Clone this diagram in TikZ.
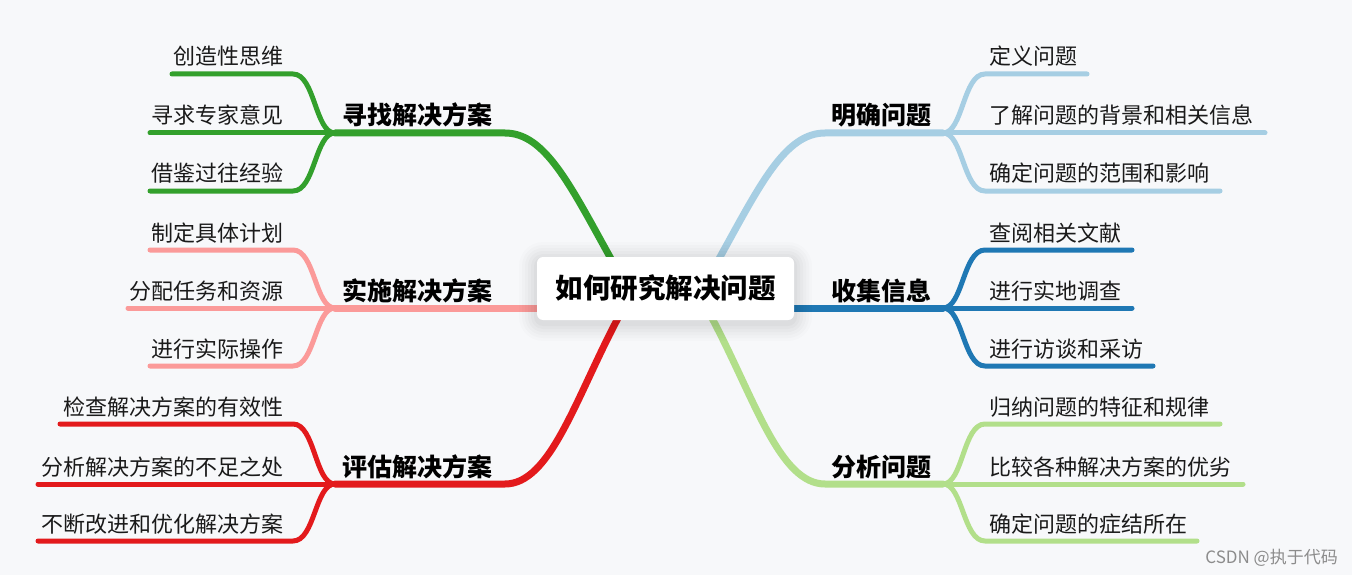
\documentclass[tikz,border=0pt]{standalone}
\usepackage{fontspec}
\setmainfont{Noto Sans CJK SC}
\definecolor{bg}{HTML}{F7F8FA}
\definecolor{cgreen}{HTML}{33A02C}
\definecolor{cpink}{HTML}{FB9A99}
\definecolor{cred}{HTML}{E31A1C}
\definecolor{clblue}{HTML}{A6CEE3}
\definecolor{cdblue}{HTML}{1F78B4}
\definecolor{clgreen}{HTML}{B2DF8A}
\definecolor{txt}{HTML}{1A1A1A}
\definecolor{wm}{HTML}{8C8C8C}
\tikzset{
  mainline/.style={line width=7pt, line cap=round},
  childline/.style={line width=5pt, line cap=round},
  childL/.style={anchor=base east, inner sep=0pt, text=txt, font=\fontsize{22}{26}\selectfont},
  childR/.style={anchor=base west, inner sep=0pt, text=txt, font=\fontsize{22}{26}\selectfont},
  mainlabel/.style={anchor=base, inner sep=0pt, text=black, font=\fontsize{25}{29}\selectfont\bfseries},
}
\begin{document}
\begin{tikzpicture}[x=1pt,y=-1pt]
\fill[bg] (0,0) rectangle (1352,575);
\useasboundingbox (0,0) rectangle (1352,575);

% ---------- coordinates ----------
\coordinate (cc) at (665,290);
\coordinate (cB) at (620,308);
\coordinate (cE) at (710,308);
\coordinate (hA) at (335,133);
\coordinate (hB) at (335,308);
\coordinate (hC) at (335,484);
\coordinate (hD) at (943,133);
\coordinate (hE) at (943,308);
\coordinate (hF) at (943,484);
\coordinate (bA) at (505,133);
\coordinate (bC) at (505,484);
\coordinate (bD) at (825,133);
\coordinate (bF) at (825,484);
\coordinate (eA) at (610,257);
\coordinate (eC) at (617,320);
\coordinate (eD) at (720,257);
\coordinate (eF) at (713,320);

% ---------- main branches ----------
\draw[mainline, cgreen] (hA) -- (bA) .. controls (545,133) and (570,185) .. (eA) -- (628,290);
\draw[mainline, cpink] (hB) -- (cB);
\draw[mainline, cred] (hC) -- (bC) .. controls (550,484) and (575,400) .. (eC) -- (630,295);
\draw[mainline, clblue] (hD) -- (bD) .. controls (785,133) and (760,185) .. (eD) -- (702,290);
\draw[mainline, cdblue] (hE) -- (cE);
\draw[mainline, clgreen] (hF) -- (bF) .. controls (780,484) and (755,400) .. (eF) -- (700,295);

% ---------- left children ----------
\coordinate (a1) at (172,74);  \coordinate (a2) at (150,133); \coordinate (a3) at (150,191);
\draw[childline, cgreen] (hA) .. controls (315,133) and (315,74) .. (293,74) -- (a1);
\draw[childline, cgreen] (hA) -- (a2);
\draw[childline, cgreen] (hA) .. controls (315,133) and (315,191) .. (293,191) -- (a3);
\coordinate (b1) at (150,250); \coordinate (b2) at (128,308); \coordinate (b3) at (150,366);
\draw[childline, cpink] (hB) .. controls (315,308) and (315,250) .. (293,250) -- (b1);
\draw[childline, cpink] (hB) -- (b2);
\draw[childline, cpink] (hB) .. controls (315,308) and (315,366) .. (293,366) -- (b3);
\coordinate (c1) at (60,424); \coordinate (c2) at (38,484); \coordinate (c3) at (38,541);
\draw[childline, cred] (hC) .. controls (315,484) and (315,424) .. (293,424) -- (c1);
\draw[childline, cred] (hC) -- (c2);
\draw[childline, cred] (hC) .. controls (315,484) and (315,541) .. (293,541) -- (c3);

% ---------- right children ----------
\coordinate (d1) at (1087,74); \coordinate (d2) at (1265,133); \coordinate (d3) at (1220,191);
\draw[childline, clblue] (hD) .. controls (963,133) and (963,74) .. (985,74) -- (d1);
\draw[childline, clblue] (hD) -- (d2);
\draw[childline, clblue] (hD) .. controls (963,133) and (963,191) .. (985,191) -- (d3);
\coordinate (e1) at (1132,250); \coordinate (e2) at (1132,308); \coordinate (e3) at (1153,366);
\draw[childline, cdblue] (hE) .. controls (963,308) and (963,250) .. (985,250) -- (e1);
\draw[childline, cdblue] (hE) -- (e2);
\draw[childline, cdblue] (hE) .. controls (963,308) and (963,366) .. (985,366) -- (e3);
\coordinate (f1) at (1220,424); \coordinate (f2) at (1243,484); \coordinate (f3) at (1197,541);
\draw[childline, clgreen] (hF) .. controls (963,484) and (963,424) .. (985,424) -- (f1);
\draw[childline, clgreen] (hF) -- (f2);
\draw[childline, clgreen] (hF) .. controls (963,484) and (963,541) .. (985,541) -- (f3);

% ---------- center node ----------
\foreach \r/\o in {18/0.012,15/0.014,12/0.016,9/0.018,6/0.02,3/0.022}{
  \fill[black, opacity=\o, rounded corners=6pt+\r pt] (537-\r,257-\r+3) rectangle (794+\r,320+\r+3);
}
\node[draw=none, fill=white, rounded corners=6pt, minimum width=257pt, minimum height=63pt,
      font=\fontsize{27.5}{32}\selectfont\bfseries, text=black] (center) at (665.5,288.5) {如何研究解决问题};

% ---------- main labels ----------
\node[mainlabel] (LA) at (417,125) {寻找解决方案};
\node[mainlabel] (LB) at (417,300) {实施解决方案};
\node[mainlabel] (LC) at (417,476) {评估解决方案};
\node[mainlabel] (LD) at (881,125) {明确问题};
\node[mainlabel] (LE) at (881,300) {收集信息};
\node[mainlabel] (LF) at (881,476) {分析问题};

% ---------- child labels ----------
\node[childL] (tA1) at (284,65) {创造性思维};
\node[childL] (tA2) at (284,124) {寻求专家意见};
\node[childL] (tA3) at (284,182) {借鉴过往经验};
\node[childL] (tB1) at (284,241) {制定具体计划};
\node[childL] (tB2) at (284,299) {分配任务和资源};
\node[childL] (tB3) at (284,357) {进行实际操作};
\node[childL] (tC1) at (284,415) {检查解决方案的有效性};
\node[childL] (tC2) at (284,475) {分析解决方案的不足之处};
\node[childL] (tC3) at (284,532) {不断改进和优化解决方案};

\node[childR] (tD1) at (989,65) {定义问题};
\node[childR] (tD2) at (989,124) {了解问题的背景和相关信息};
\node[childR] (tD3) at (989,182) {确定问题的范围和影响};
\node[childR] (tE1) at (989,241) {查阅相关文献};
\node[childR] (tE2) at (989,299) {进行实地调查};
\node[childR] (tE3) at (989,357) {进行访谈和采访};
\node[childR] (tF1) at (989,415) {归纳问题的特征和规律};
\node[childR] (tF2) at (989,475) {比较各种解决方案的优劣};
\node[childR] (tF3) at (989,532) {确定问题的症结所在};

% ---------- watermark ----------
\node[anchor=base east, inner sep=0pt, text=wm, font=\fontsize{17}{20}\selectfont] (wmk) at (1338,563) {CSDN @执于代码};
\end{tikzpicture}
\end{document}
